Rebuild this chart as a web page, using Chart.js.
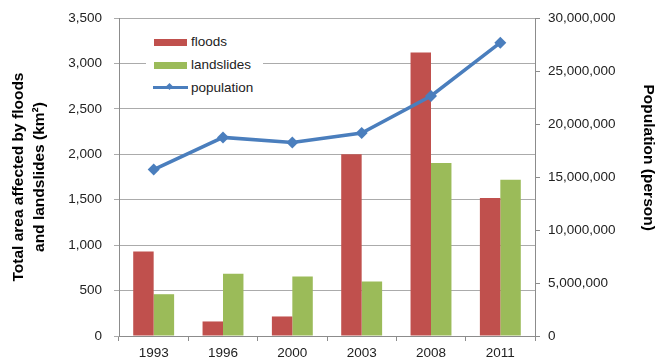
<!DOCTYPE html>
<html>
<head>
<meta charset="utf-8">
<script src="https://cdn.jsdelivr.net/npm/chart.js@4"></script>
<style>
  html, body { margin: 0; padding: 0; background: #fff; }
  #wrap { position: relative; width: 667px; height: 360px; }
  #legend { position: absolute; left: 146px; top: 31px; width: 117px; height: 69px; background: #fff;
            font-family: "Liberation Sans", Arial, sans-serif; font-size: 13.5px; color: #222; }
  .row { position: absolute; left: 0; height: 20px; line-height: 20px; width: 117px; }
  .sw { position: absolute; left: 8px; top: 7px; width: 33px; height: 7px; }
  .lbl { position: absolute; left: 45px; top: 0; white-space: nowrap; }
  .ln { position: absolute; left: 7px; top: 8px; width: 35px; height: 3px; background: #4A7EBD; }
  .dm { position: absolute; left: 21px; top: 6px; width: 5px; height: 5px; background: #4A7EBD; transform: rotate(45deg); }
</style>
</head>
<body>
<div id="wrap">
  <canvas id="c" width="667" height="360"></canvas>
  <div id="legend"></div>
</div>
<script>
const categories = ['1993', '1996', '2000', '2003', '2008', '2011'];
const floods = [930, 160, 215, 2000, 3120, 1520];
const landslides = [460, 685, 655, 600, 1905, 1720];
const population = [15700000, 18740000, 18270000, 19150000, 22650000, 27680000];
const seriesNames = ['floods', 'landslides', 'population'];
const leftTitle = ['Total area affected by floods', 'and landslides (km\u00B2)'];
const rightTitle = 'Population (person)';

const RED = '#C0504D', GREEN = '#9BBB59', BLUE = '#4A7EBD';
const GRID = '#ABABAB', AXIS = '#8C8C8C';
const FONT = '"Liberation Sans", Arial, sans-serif';

// HTML legend
const legend = document.getElementById('legend');
const colors = [RED, GREEN, BLUE];
seriesNames.forEach((name, i) => {
  const row = document.createElement('div');
  row.className = 'row';
  row.style.top = (i * 23 + 1) + 'px';
  if (i < 2) {
    row.innerHTML = '<div class="sw" style="background:' + colors[i] + '"></div><span class="lbl">' + name + '</span>';
  } else {
    row.innerHTML = '<div class="ln"></div><div class="dm"></div><span class="lbl">' + name + '</span>';
  }
  legend.appendChild(row);
});

const fmt = v => Number(v).toLocaleString('en-US');

new Chart(document.getElementById('c'), {
  data: {
    labels: categories,
    datasets: [
      { type: 'line', label: seriesNames[2], data: population, yAxisID: 'y2',
        borderColor: BLUE, backgroundColor: BLUE, borderWidth: 3.5,
        pointStyle: 'rectRot', pointRadius: 6, pointBorderWidth: 0, tension: 0, order: 0 },
      { type: 'bar', label: seriesNames[0], data: floods, yAxisID: 'y', backgroundColor: RED,
        categoryPercentage: 0.59, barPercentage: 1, order: 1 },
      { type: 'bar', label: seriesNames[1], data: landslides, yAxisID: 'y', backgroundColor: GREEN,
        categoryPercentage: 0.59, barPercentage: 1, order: 1 }
    ]
  },
  options: {
    responsive: false,
    animation: false,
    devicePixelRatio: 1,
    layout: { padding: { left: 5, right: 5, top: 16, bottom: 0 } },
    plugins: { legend: { display: false }, tooltip: { enabled: false } },
    scales: {
      x: {
        offset: true,
        grid: { display: true, drawOnChartArea: false, drawTicks: true, tickLength: 5, color: AXIS, offset: true },
        border: { color: AXIS },
        ticks: { font: { family: FONT, size: 13.5 }, color: '#222', padding: 4 },
        afterFit: a => { a.height = 24; }
      },
      y: {
        position: 'left', min: 0, max: 3500,
        ticks: { stepSize: 500, font: { family: FONT, size: 13.5, lineHeight: 0.9 }, color: '#222', padding: 12, callback: fmt },
        grid: { color: GRID, tickLength: 5 },
        border: { color: AXIS },
        title: { display: true, text: leftTitle, font: { family: FONT, size: 15.5, weight: 'bold', lineHeight: 1.3 }, color: '#000', padding: { top: 4, bottom: 0 } },
        afterFit: a => { a.width = 114; }
      },
      y2: {
        position: 'right', min: 0, max: 30000000,
        ticks: { stepSize: 5000000, font: { family: FONT, size: 13.5, lineHeight: 0.9 }, color: '#222', padding: 8, callback: fmt },
        grid: { drawOnChartArea: false, color: AXIS, tickLength: 5 },
        border: { color: AXIS },
        title: { display: true, text: rightTitle + '\u00A0'.repeat(9), font: { family: FONT, size: 15.5, weight: 'bold', lineHeight: 1.3 }, color: '#000', padding: { top: 4, bottom: 0 } },
        afterFit: a => { a.width = 127; }
      }
    }
  }
});
</script>
</body>
</html>
